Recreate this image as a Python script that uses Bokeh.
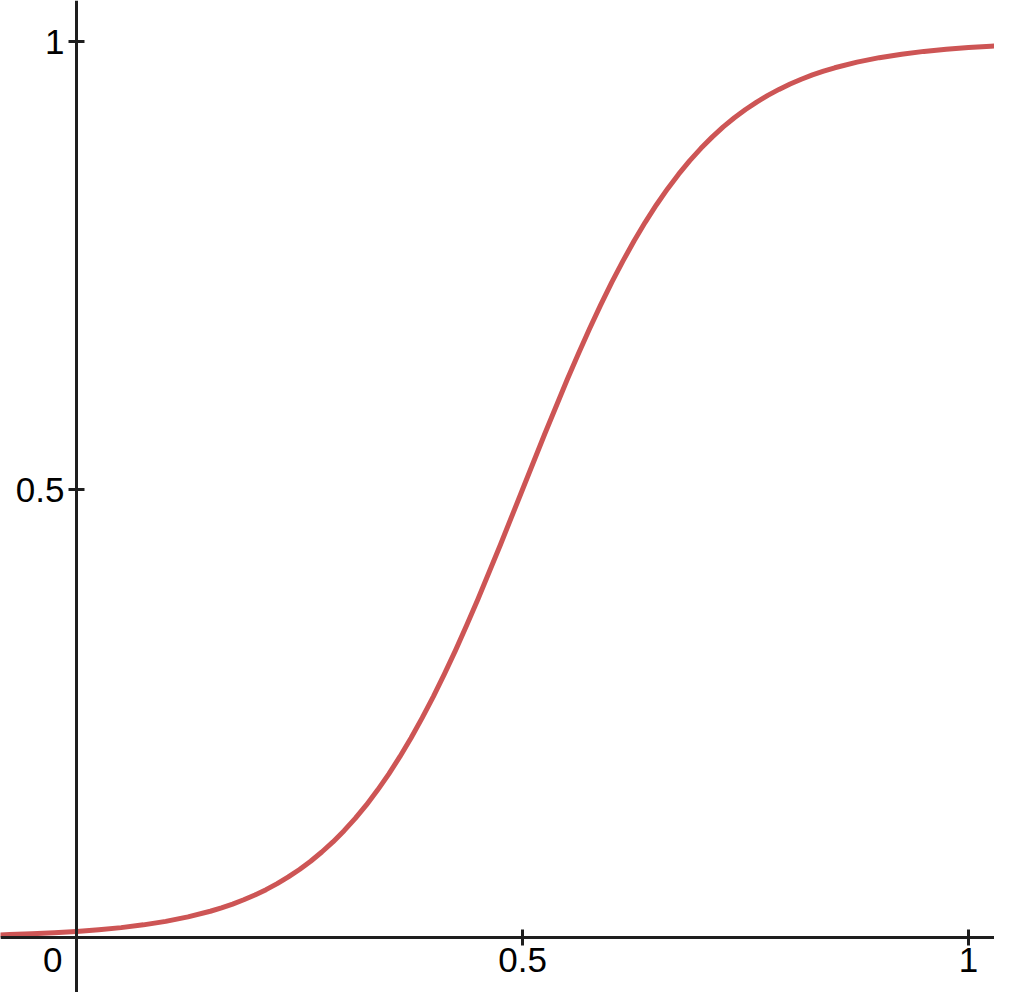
from bokeh.plotting import figure
from bokeh.models import Range1d, FixedTicker, Label
from bokeh.embed import file_html
from bokeh.resources import INLINE

# Curve values
x_vals = [-0.1, -0.075, -0.05, -0.025, 0.0, 0.025, 0.05, 0.075, 0.1, 0.125, 0.15, 0.1625,
          0.175, 0.1875, 0.2, 0.2125, 0.225, 0.2375, 0.25, 0.2625, 0.275, 0.2875, 0.3,
          0.3125, 0.325, 0.3375, 0.35, 0.3625, 0.375, 0.3875, 0.4, 0.4125, 0.425, 0.4375,
          0.45, 0.475, 0.5, 0.525, 0.55, 0.5625, 0.575, 0.5875, 0.6, 0.6125, 0.625, 0.6375,
          0.65, 0.6625, 0.675, 0.6875, 0.7, 0.7125, 0.725, 0.7375, 0.75, 0.7625, 0.775,
          0.7875, 0.8, 0.8125, 0.825, 0.8375, 0.85, 0.875, 0.9, 0.925, 0.95, 0.975, 1.0,
          1.025, 1.05]
y_vals = [0.0025, 0.0032, 0.0041, 0.0052, 0.0067, 0.0086, 0.0110, 0.0141, 0.0180, 0.0230,
          0.0293, 0.0331, 0.0373, 0.0421, 0.0474, 0.0534, 0.0601, 0.0676, 0.0759, 0.0851,
          0.0954, 0.1067, 0.1192, 0.1330, 0.1480, 0.1645, 0.1824, 0.2018, 0.2227, 0.2451,
          0.2689, 0.2942, 0.3208, 0.3487, 0.3775, 0.4378, 0.5, 0.5622, 0.6225, 0.6513,
          0.6792, 0.7058, 0.7311, 0.7549, 0.7773, 0.7982, 0.8176, 0.8355, 0.8520, 0.8670,
          0.8808, 0.8933, 0.9047, 0.9149, 0.9241, 0.9324, 0.9399, 0.9466, 0.9526, 0.9579,
          0.9627, 0.9669, 0.9707, 0.9770, 0.9820, 0.9859, 0.9890, 0.9914, 0.9933, 0.9948,
          0.9959]

x_ticks = [0.5, 1]
y_ticks = [0.5, 1]
origin_label = "0"

FONT = "Liberation Sans"

p = figure(width=994, height=992, output_backend="svg", toolbar_location=None,
           x_range=Range1d(-0.0852, 1.0291), y_range=Range1d(-0.0614, 1.0458),
           min_border=0, outline_line_color=None)
p.background_fill_color = "white"
p.border_fill_color = "white"
p.grid.visible = False

for ax in (p.xaxis[0], p.yaxis[0]):
    ax.fixed_location = 0
    ax.axis_line_color = "#1e1e1e"
    ax.axis_line_width = 3
    ax.major_tick_line_color = "#1e1e1e"
    ax.major_tick_line_width = 3
    ax.major_tick_in = 8
    ax.major_tick_out = 8
    ax.minor_tick_line_color = None
    ax.major_label_text_font = FONT
    ax.major_label_text_font_size = "35px"
    ax.major_label_text_color = "black"

p.xaxis[0].ticker = FixedTicker(ticks=x_ticks)
p.yaxis[0].ticker = FixedTicker(ticks=y_ticks)
p.xaxis[0].major_label_standoff = 3
p.yaxis[0].major_label_standoff = 4

p.line(x_vals, y_vals, line_color="#cd5555", line_width=5, line_join="round")

p.add_layout(Label(x=0, y=0, text=origin_label, text_font=FONT, text_font_size="35px",
                   text_color="black", text_align="right", text_baseline="top",
                   x_offset=-14, y_offset=-11))

open("out.html", "w").write(file_html(p, INLINE))
